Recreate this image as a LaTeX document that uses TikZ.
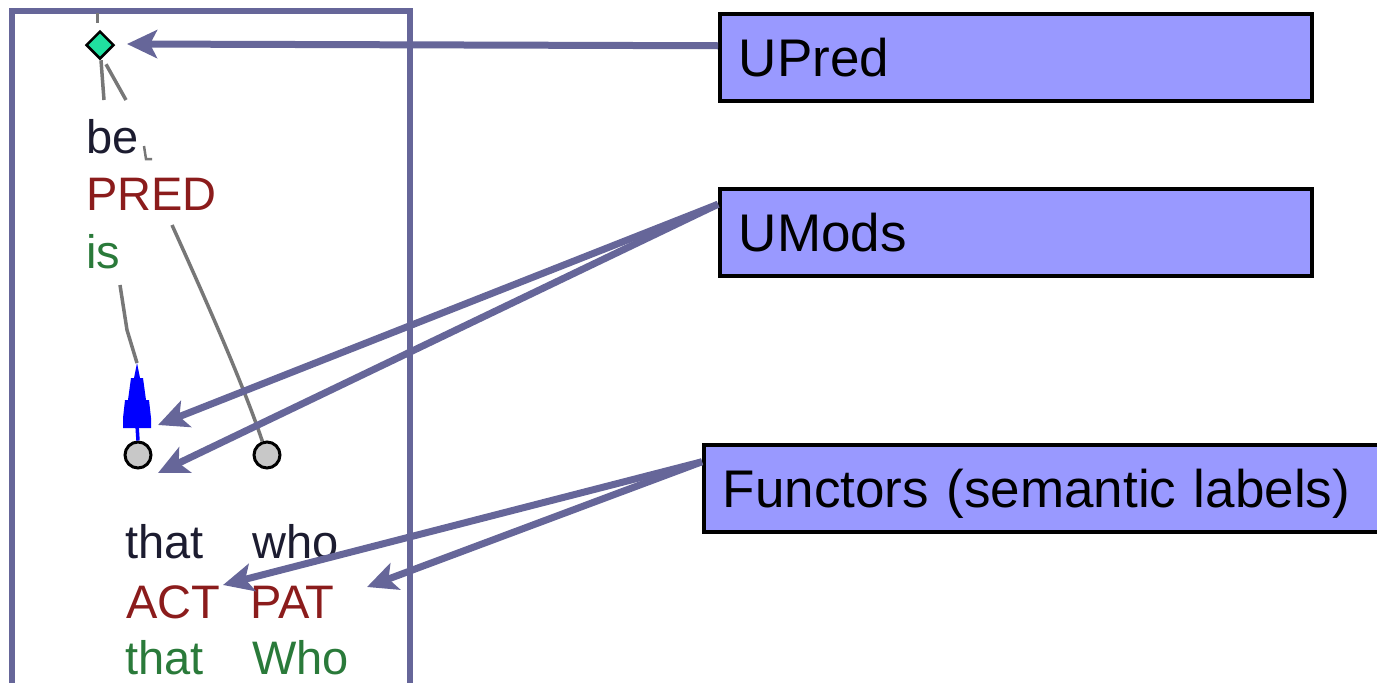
\documentclass[tikz,border=0pt]{standalone}
\usepackage{fontspec}
\setmainfont{Liberation Sans}
\usetikzlibrary{arrows.meta,shapes.geometric,calc}
\definecolor{slate}{HTML}{666699}
\definecolor{boxfill}{HTML}{9999FF}
\definecolor{predred}{HTML}{8B1C1C}
\definecolor{wordgreen}{HTML}{2A7A3A}
\definecolor{wordblack}{HTML}{1C1C30}
\definecolor{edgegray}{HTML}{777777}
\definecolor{mint}{HTML}{20E0A0}
\definecolor{nodegray}{HTML}{C8C8C8}
\begin{document}
\begin{tikzpicture}[x=1pt,y=-1pt,
  callout/.style={draw=black, line width=3.5pt, fill=boxfill, anchor=north west,
    minimum height=87pt, text height=38pt, text depth=0pt, inner xsep=19pt,
    inner ysep=0pt, font=\fontsize{53}{60}\selectfont, align=left},
  pointer/.style={draw=slate, line width=7pt, -{Stealth[length=30pt,width=28pt,inset=7pt]}},
  word/.style={font=\fontsize{47}{55}\selectfont, anchor=base west, inner sep=0pt},
  treeedge/.style={draw=edgegray, line width=3.5pt},
  tnode/.style={circle, draw=black, line width=3pt, fill=nodegray, minimum size=26pt, inner sep=0pt},
]
\useasboundingbox (0,0) rectangle (1377,683);
% frame
\draw[slate, line width=5.5pt] (12,720) -- (12,11) -- (410,11) -- (410,720);

% tree nodes
\node[diamond, draw=black, line width=2.5pt, fill=mint, minimum size=28pt, inner sep=0pt] (root) at (100,45) {};
\node[word, text=wordblack] (be) at (86,153) {be};
\node[word, text=predred] (pred) at (86,210) {PRED};
\node[word, text=wordgreen] (is) at (86,268) {is};
\node[tnode] (n1) at (138,455) {};
\node[tnode] (n2) at (267,455) {};
\node[word, text=wordblack] (that1) at (125,558) {that};
\node[word, text=wordblack] (who1) at (252,558) {who};
\node[word, text=predred] (act) at (126,618) {ACT};
\node[word, text=predred] (pat) at (250,618) {PAT};
\node[word, text=wordgreen] (that2) at (125,674) {that};
\node[word, text=wordgreen] (who2) at (252,674) {Who};

% tree edges
\coordinate (rtopA) at (97,13);
\coordinate (rtopB) at (97,23);
\draw[treeedge, line width=3pt] (rtopA) -- (rtopB);
\coordinate (rootfootA) at (104,100);
\coordinate (rootfootB) at (126,100);
\draw[treeedge] ([xshift=1pt]root.south) -- (rootfootA);
\draw[treeedge] ([xshift=6pt,yshift=-4pt]root.south) -- (rootfootB);
\coordinate (smallA) at (144,146);
\coordinate (smallB) at (146,159);
\coordinate (smallC) at (152,159);
\draw[edgegray, line width=2.5pt] (smallA) -- (smallB) -- (smallC);
\coordinate (predfoot) at (172,225);
\draw[treeedge] (predfoot) .. controls (215,320) and (245,390) .. (n2);
\coordinate (isfoot) at (120,285);
\coordinate (bluetip) at (137,363);
\coordinate (bluebase) at (137,425);
\draw[treeedge] (isfoot) -- (127,330) -- (bluetip);
\draw[blue, line width=3.5pt] (n1.north) -- (bluebase);
\fill[blue] (bluetip) -- (140,378) -- (143,378) -- (146,400) -- (149,400) -- (151,418) -- (151,428)
  -- (123,428) -- (123,418) -- (125,400) -- (128,400) -- (131,378) -- (134,378) -- cycle;

% callout boxes
\node[callout, minimum width=592pt, text width=554pt] (upred) at (718,12) {UPred};
\node[callout, minimum width=592pt, text width=554pt] (umods) at (718,187) {UMods};
\node[callout, minimum width=690pt, text width=652pt] (functors) at (702,443) {Functors (semantic labels)};

% pointers
\coordinate (upredtip) at (127,44);
\coordinate (umodstipA) at (158,425);
\coordinate (umodstipB) at (158,473);
\coordinate (acttip) at (223,585);
\coordinate (pattip) at (367,587);
\draw[pointer] ([yshift=11.5pt]upred.west) -- (upredtip);
\draw[pointer] ([yshift=28pt]umods.west) -- (umodstipA);
\draw[pointer] ([yshift=28pt]umods.west) -- (umodstipB);
\draw[pointer] ([yshift=26.5pt]functors.west) -- (acttip);
\draw[pointer] ([yshift=26.5pt]functors.west) -- (pattip);
\end{tikzpicture}
\end{document}
